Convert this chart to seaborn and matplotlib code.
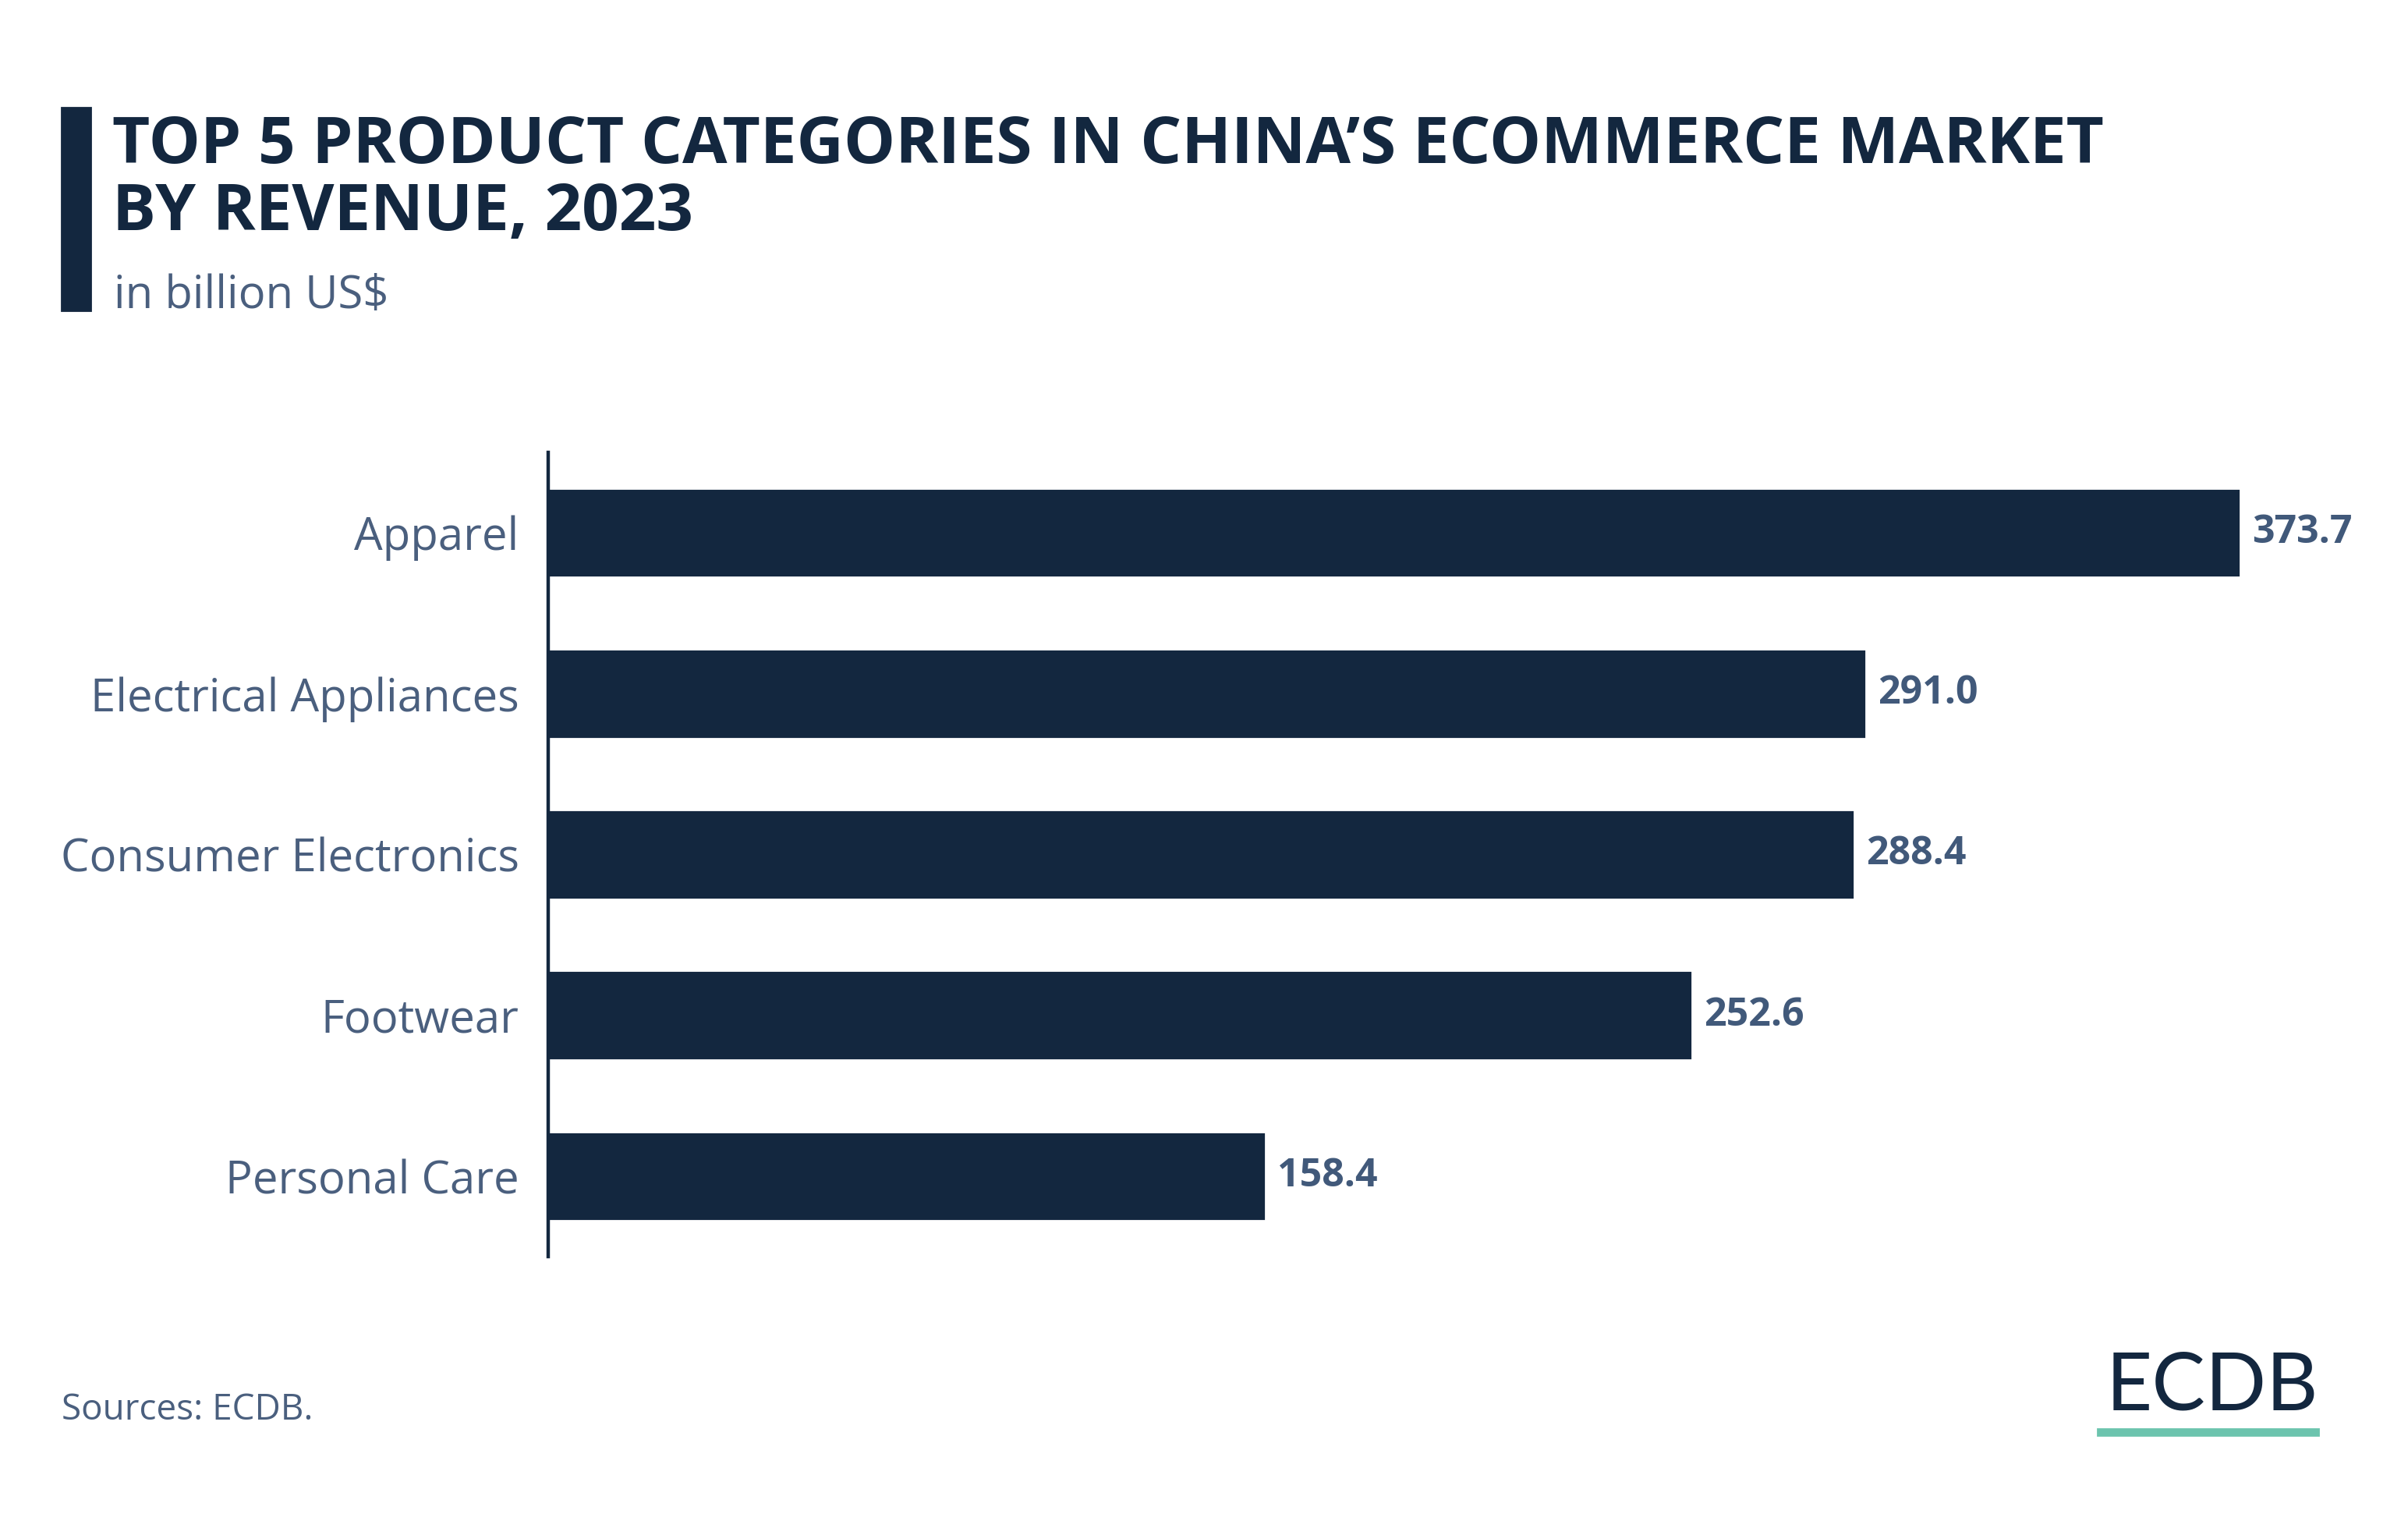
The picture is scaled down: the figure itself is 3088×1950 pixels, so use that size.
import matplotlib
matplotlib.use("Agg")
import matplotlib.pyplot as plt
import seaborn as sns
import pandas as pd

# Data
categories = ["Apparel", "Electrical Appliances", "Consumer Electronics", "Footwear", "Personal Care"]
revenue = [373.7, 291.0, 288.4, 252.6, 158.4]

title_lines = ["TOP 5 PRODUCT CATEGORIES IN CHINA\u2019S ECOMMERCE MARKET", "BY REVENUE, 2023"]
subtitle = "in billion US$"
source = "Sources: ECDB."

NAVY = "#13273F"
SLATE = "#4A5F7E"
VALUE = "#41597A"
GREEN = "#6CC4AE"

sns.set_theme(style="white")
plt.rcParams["font.family"] = ["Open Sans", "DejaVu Sans"]

W, H, DPI = 3088, 1950, 200
fig = plt.figure(figsize=(W / DPI, H / DPI), dpi=DPI)
fig.patch.set_facecolor("white")

df = pd.DataFrame({"category": categories, "revenue": revenue})

# axes placed in pixel coordinates
ax_l, ax_r, ax_t, ax_b = 703, 3000, 580, 1611
ax = fig.add_axes([ax_l / W, 1 - ax_b / H, (ax_r - ax_l) / W, (ax_b - ax_t) / H])

sns.barplot(data=df, x="revenue", y="category", orient="h", color=NAVY,
            width=0.555, saturation=1, ax=ax)

ax.set_xlim(0, (ax_r - ax_l) / (2170 / 373.7))
ax.set_ylim(4.5, -0.5)
ax.set_xlabel("")
ax.set_ylabel("")
ax.set_xticks([])
for s in ["top", "right", "bottom"]:
    ax.spines[s].set_visible(False)
ax.spines["left"].set_color(NAVY)
ax.spines["left"].set_linewidth(1.6)
ax.tick_params(axis="y", length=0, pad=13.5, labelsize=20.9, labelcolor=SLATE)
ax.set_facecolor("white")

ax.bar_label(ax.containers[0], fmt="%.1f", padding=5.5, fontsize=18,
             fontweight="bold", color=VALUE)

# title block
fig.patches.append(plt.Rectangle((79 / W, 1 - 398 / H), 37 / W, 260 / H,
                                 transform=fig.transFigure, color=NAVY))
for line, base in zip(title_lines, [209, 295]):
    fig.text(144 / W, 1 - base / H, line, fontsize=30, fontweight="bold", color=NAVY,
             ha="left", va="baseline")
fig.text(146 / W, 1 - 380 / H, subtitle, fontsize=20.9, color=SLATE, ha="left", va="center")

# footer
fig.text(79 / W, 1 - 1808 / H, source, fontsize=16.5, color=SLATE, ha="left", va="center")
fig.text(2973 / W, 1 - 1808 / H, "ECDB", fontsize=37, color=NAVY, ha="right",
         va="baseline", fontweight="normal", family=["Lato", "DejaVu Sans"])
fig.patches.append(plt.Rectangle((2690 / W, 1 - 1840 / H), 283 / W, 8 / H,
                                 transform=fig.transFigure, color=GREEN))

fig.savefig("out.png", dpi=DPI, facecolor="white")
